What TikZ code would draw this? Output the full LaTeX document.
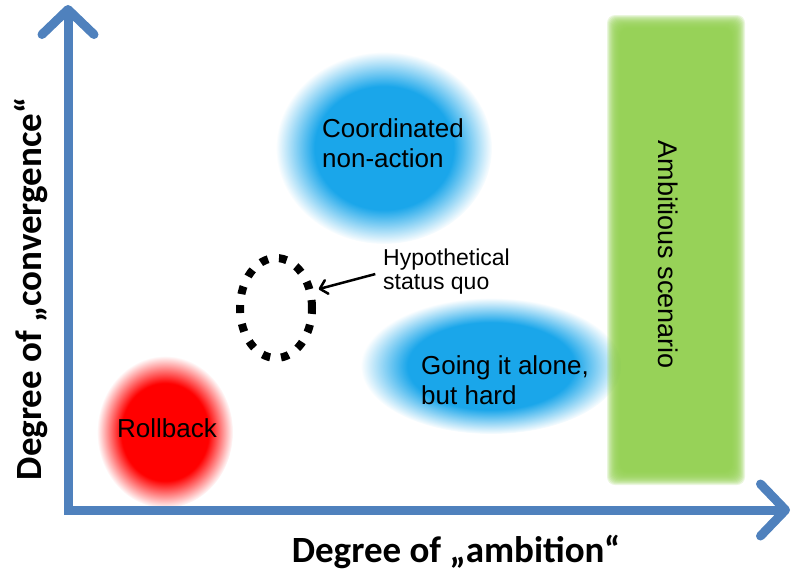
\documentclass[tikz,border=0pt]{standalone}
\usepackage{fontspec}
\setmainfont{Liberation Sans}
\newfontfamily\axisfont{Carlito}
\usetikzlibrary{arrows.meta,positioning,shapes.geometric,fadings}

\definecolor{axisblue}{RGB}{79,129,189}
\definecolor{blobblue}{RGB}{26,166,234}
\definecolor{blobred}{RGB}{255,0,0}
\definecolor{bargreen}{RGB}{146,208,80}

% soft edge for the blobs
\pgfdeclareradialshading{softedge}{\pgfpointorigin}{color(0bp)=(pgftransparent!0); color(16bp)=(pgftransparent!0); color(25bp)=(pgftransparent!100); color(50bp)=(pgftransparent!100)}
\pgfdeclarefading{softblob}{\pgfuseshading{softedge}}

\begin{document}
\begin{tikzpicture}
  [x=1pt,y=-1pt,
   axis/.style={draw=axisblue,line width=9pt,line join=miter,
     {Straight Barb[length=25pt,width=52pt,round]}-{Straight Barb[length=25pt,width=52pt,round]}},
   axislabel/.style={font=\axisfont\bfseries\fontsize{37}{40}\selectfont,inner sep=0pt},
   blobtext/.style={font=\fontsize{26}{30}\selectfont,align=left,inner sep=0pt},
   note/.style={font=\fontsize{23}{24}\selectfont,align=left,inner sep=0pt}]
  \useasboundingbox (0,0) rectangle (795,576);

  % soft blobs and bar
  \fill[blobred,path fading=softblob] (165,432) ellipse (68 and 76);
  \fill[blobblue,path fading=softblob] (384,148) ellipse (108 and 96);
  \fill[blobblue,path fading=softblob] (491,366) ellipse (130 and 68);
  \foreach \k in {0,...,15}
    \fill[bargreen,opacity=.18,rounded corners=8pt]
      ({607+0.9*\k},{15+0.9*\k}) rectangle ({745-0.9*\k},{485-0.9*\k});

  % axes
  \coordinate (ytop) at (68,5);
  \coordinate (orig) at (68,510);
  \coordinate (xend) at (790,510);
  \draw[axis] (ytop) -- (orig) -- (xend);

  \node[axislabel] (xlab) at (456,552) {Degree of „ambition“};
  \node[axislabel,rotate=90] (ylab) at (31,289) {Degree of „convergence“};

  % labels
  \node[blobtext] (rollback) at (167,428) {Rollback};
  \node[blobtext,anchor=west] (coord) at (322,143) {Coordinated\\non-action};
  \node[blobtext,anchor=west] (alone) at (421,380) {Going it alone,\\but hard};
  \node[blobtext,font=\fontsize{27}{30}\selectfont,rotate=-90] (ambit) at (668,255) {Ambitious scenario};

  % status quo
  \node[draw,ellipse,line width=8pt,dash pattern=on 8pt off 11pt,
        minimum width=72pt,minimum height=100pt] (squo) at (276,308) {};
  \node[note,anchor=west] (hypo) at (383,272) {Hypothetical\\status quo};
  \draw[line width=2.5pt,-{Straight Barb[length=7pt,width=14pt,round]},
        shorten <=8pt,shorten >=5pt] (hypo.west) -- (squo.25);
\end{tikzpicture}
\end{document}
